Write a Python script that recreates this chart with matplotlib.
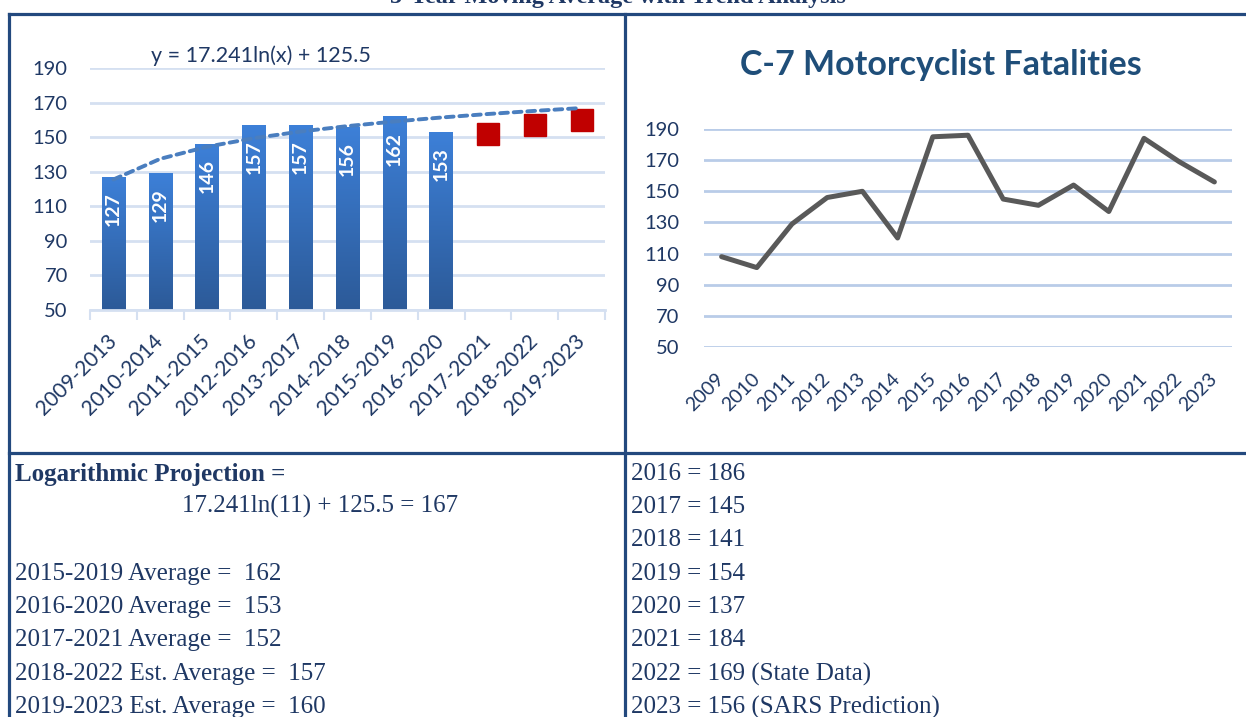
import numpy as np
import matplotlib
matplotlib.use('Agg')
import matplotlib.pyplot as plt
from matplotlib.colors import LinearSegmentedColormap
from matplotlib.lines import Line2D

## data
Periods = ['2009-2013', '2010-2014', '2011-2015', '2012-2016', '2013-2017', '2014-2018',
           '2015-2019', '2016-2020', '2017-2021', '2018-2022', '2019-2023']
Avg_Values = [127, 129, 146, 157, 157, 156, 162, 153]
Est_Periods = ['2017-2021', '2018-2022', '2019-2023']
Est_Values = [152, 157, 160]
Trend_A = 17.241
Trend_B = 125.5

Years = ['2009', '2010', '2011', '2012', '2013', '2014', '2015', '2016',
         '2017', '2018', '2019', '2020', '2021', '2022', '2023']
Fatalities = [108, 101, 129, 146, 150, 120, 185, 186, 145, 141, 154, 137, 184, 169, 156]

Left_Lines = ['2015-2019 Average =  162', '2016-2020 Average =  153', '2017-2021 Average =  152',
              '2018-2022 Est. Average =  157', '2019-2023 Est. Average =  160']
Right_Lines = ['2016 = 186', '2017 = 145', '2018 = 141', '2019 = 154', '2020 = 137',
               '2021 = 184', '2022 = 169 (State Data)', '2023 = 156 (SARS Prediction)']

W, H = 1246, 717
Navy = '#1F3864'
Frame = '#23497E'
Grid = '#D5E0F1'

def fx(px):
    return px / W

def fy(py):
    return 1 - py / H

fig = plt.figure(figsize=(W / 100, H / 100), dpi=100)

## left chart: moving averages
ax1 = fig.add_axes([fx(90), fy(310), fx(605) - fx(90), fy(68) - fy(310)])
x1 = np.arange(len(Periods))
bars = ax1.bar(x1[:len(Avg_Values)], Avg_Values, width=0.5, color='#3670C0', zorder=2)
cmap = LinearSegmentedColormap.from_list('barfade', ['#2C5A98', '#3D80D8'])
grad = np.linspace(0, 1, 256).reshape(-1, 1)
for b in bars:
    x0, w, top = b.get_x(), b.get_width(), b.get_height()
    im = ax1.imshow(grad, extent=[x0, x0 + w, 50, top], origin='lower', cmap=cmap,
                    aspect='auto', zorder=2.1)
    im.set_clip_path(b)
for i, v in enumerate(Avg_Values):
    ax1.annotate(str(v), (i, v), xytext=(0, -11), textcoords='offset points', rotation=90,
                 ha='center', va='top', color='white', fontsize=14, fontweight='bold',
                 family='Lato', zorder=4)

est_x = [Periods.index(p) for p in Est_Periods]
ax1.plot(est_x, Est_Values, 's', color='#C00000', markersize=15.8, zorder=3)

trend_y = Trend_A * np.log(x1 + 1) + Trend_B
ax1.plot(x1, trend_y, color='#4A7EBF', lw=2.8, dashes=(2.0, 1.5), dash_capstyle='round',
         zorder=3.5)

ax1.set_xlim(-0.5, len(Periods) - 0.5)
ax1.set_ylim(50, 190)
ax1.set_yticks(range(50, 191, 20))
ax1.set_xticks(x1)
ax1.set_xticklabels(Periods, rotation=45, ha='right', va='center', rotation_mode='anchor')
ax1.set_xticks(np.arange(-0.5, len(Periods)), minor=True)
ax1.tick_params(axis='x', which='major', length=0, pad=20, labelsize=15, labelcolor=Navy)
ax1.tick_params(axis='x', which='minor', length=7, width=1.5, color=Grid)
ax1.tick_params(axis='y', length=0, pad=16, labelsize=14.5, labelcolor=Navy)
for lab in ax1.get_xticklabels() + ax1.get_yticklabels():
    lab.set_family('Lato')
ax1.grid(axis='y', color=Grid, lw=2, zorder=0)
ax1.set_axisbelow(True)
for s in ['top', 'right', 'left']:
    ax1.spines[s].set_visible(False)
ax1.spines['bottom'].set_color(Grid)
ax1.spines['bottom'].set_linewidth(2)

fig.text(fx(261), fy(56), 'y = 17.241ln(x) + 125.5', ha='center', va='center',
         fontsize=15.5, color=Navy, family='Lato')

## right chart: yearly fatalities
ax2 = fig.add_axes([fx(704), fy(347), fx(1232) - fx(704), fy(129) - fy(347)])
x2 = np.arange(len(Years))
ax2.plot(x2, Fatalities, color='#595959', lw=3.6, solid_joinstyle='round',
         solid_capstyle='round', zorder=3)
ax2.set_xlim(-0.5, len(Years) - 0.5)
ax2.set_ylim(50, 190)
ax2.set_yticks(range(50, 191, 20))
ax2.set_xticks(x2)
ax2.set_xticklabels(Years, rotation=45, ha='right', va='center', rotation_mode='anchor')
ax2.tick_params(axis='x', length=0, pad=21, labelsize=14, labelcolor=Navy)
ax2.tick_params(axis='y', length=0, pad=18, labelsize=14.5, labelcolor=Navy)
for lab in ax2.get_xticklabels() + ax2.get_yticklabels():
    lab.set_family('Lato')
ax2.grid(axis='y', color='#B9CCE8', lw=2, zorder=0)
ax2.set_axisbelow(True)
for s in ax2.spines.values():
    s.set_visible(False)

fig.text(fx(941), fy(65), 'C-7 Motorcyclist Fatalities', ha='center', va='center',
         fontsize=24.5, fontweight='bold', color='#1F4E79', family='Lato')

## top title (cut off at the top edge, as in the source)
fig.text(fx(618), fy(-3), '5-Year Moving Average with Trend Analysis', ha='center',
         va='center', fontsize=17.5, fontweight='bold', color=Navy, family='Liberation Serif')

## frame lines
for (xa, ya, xb, yb) in [(9, 14, W, 14), (9, 14, 9, H), (625, 14, 625, H), (9, 453, W, 453)]:
    fig.add_artist(Line2D([fx(xa), fx(xb)], [fy(ya), fy(yb)], color=Frame, lw=2.3,
                          transform=fig.transFigure))

## bottom text
serif = dict(fontsize=18, color=Navy, family='Liberation Serif', va='center')
fig.text(fx(15), fy(474), 'Logarithmic Projection =', fontweight='bold', **serif)
fig.text(fx(320), fy(506), '17.241ln(11) + 125.5 = 167', ha='center', **serif)
row_y = [474, 507, 540, 574, 607, 640, 674, 707]
for txt, yy in zip(Left_Lines, row_y[3:]):
    fig.text(fx(15), fy(yy), txt, **serif)
for txt, yy in zip(Right_Lines, row_y):
    fig.text(fx(631), fy(yy), txt, **serif)

fig.savefig('out.png', dpi=100)
